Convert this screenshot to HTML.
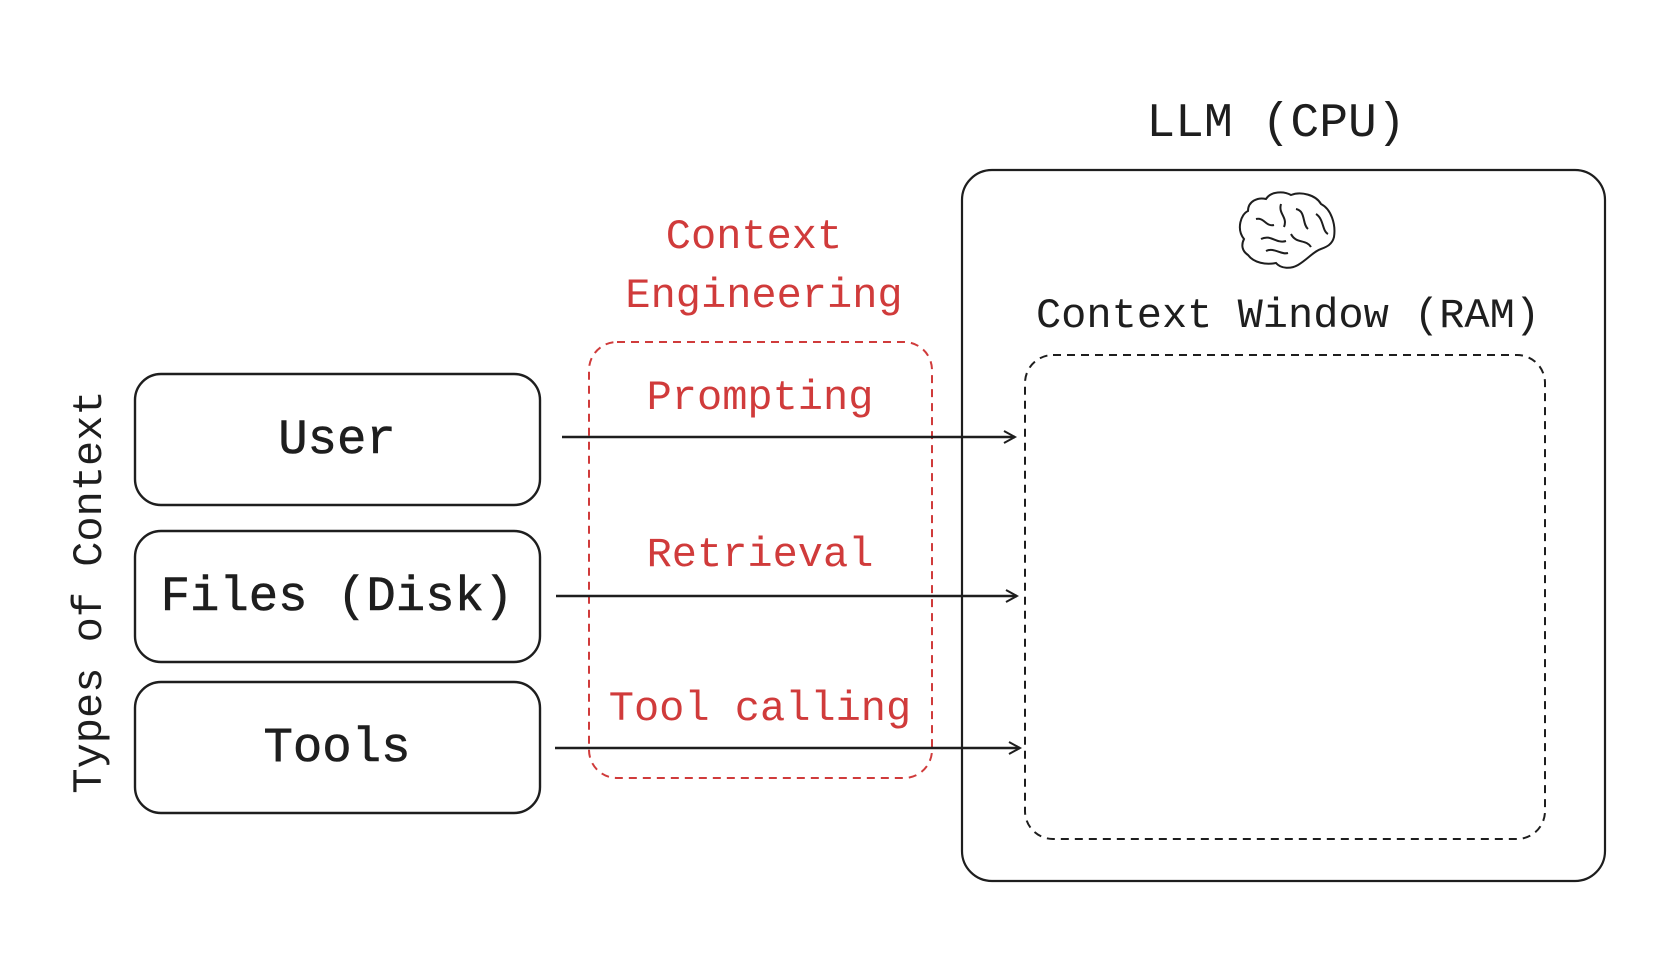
<!DOCTYPE html>
<html><head><style>html,body{margin:0;padding:0;background:#fff}svg{display:block}</style></head>
<body>
<svg width="1660" height="962" viewBox="0 0 1660 962" xmlns="http://www.w3.org/2000/svg" font-family="Liberation Mono, monospace">
<defs>
<marker id="ah" markerWidth="14" markerHeight="14" refX="12" refY="7" orient="auto" markerUnits="userSpaceOnUse">
<path d="M1,1 L12,7 L1,13" fill="none" stroke="#1e1e1e" stroke-width="2"/>
</marker>
</defs>
<g transform="translate(-4,-2)">
<text x="1280" y="138" font-size="48" text-anchor="middle" fill="#1e1e1e">LLM (CPU)</text>
<rect x="966" y="172" width="643" height="711" rx="30" fill="none" stroke="#1e1e1e" stroke-width="2.2"/>
<g fill="none" stroke="#1e1e1e" stroke-width="2" transform="translate(1240,191)">
<path d="M8,50 C0,40 5,25 12,22 C12,12 22,8 30,10 C35,2 48,2 55,6 C65,2 80,6 85,15 C95,20 100,35 98,48 C96,56 90,58 85,60 C78,62 72,70 62,76 C55,80 45,80 40,74 C30,76 18,74 12,66 C6,62 5,56 8,50 Z"/>
<path d="M20,30 C28,28 30,38 38,36 M45,15 C42,25 52,28 48,38 M60,20 C70,22 66,35 72,40 M25,50 C35,45 40,55 50,52 M55,45 C60,55 70,50 75,58 M80,25 C88,30 86,42 92,45 M30,62 C38,58 45,66 52,64"/>
</g>
<text x="1292" y="329" font-size="42" text-anchor="middle" fill="#1e1e1e">Context Window (RAM)</text>
<rect x="1029" y="357" width="520" height="484" rx="28" fill="none" stroke="#1e1e1e" stroke-width="2" stroke-dasharray="8 6"/>
<text x="758" y="250" font-size="42" text-anchor="middle" fill="#d03b3b">Context</text>
<text x="768" y="309" font-size="42" text-anchor="middle" fill="#d03b3b">Engineering</text>
<rect x="593" y="344" width="343" height="436" rx="28" fill="none" stroke="#d03b3b" stroke-width="2" stroke-dasharray="8 6"/>
<text x="764" y="411" font-size="42" text-anchor="middle" fill="#d03b3b">Prompting</text>
<text x="764" y="568" font-size="42" text-anchor="middle" fill="#d03b3b">Retrieval</text>
<text x="764" y="722" font-size="42" text-anchor="middle" fill="#d03b3b">Tool calling</text>
<g fill="none" stroke="#1e1e1e" stroke-width="2.4">
<rect x="139" y="376" width="405" height="131" rx="26"/>
<rect x="139" y="533" width="405" height="131" rx="26"/>
<rect x="139" y="684" width="405" height="131" rx="26"/>
</g>
<g font-size="49" text-anchor="middle" fill="#1e1e1e" stroke="#1e1e1e" stroke-width="0.6">
<text x="341" y="455">User</text>
<text x="341" y="612">Files (Disk)</text>
<text x="341" y="763">Tools</text>
</g>
<g stroke="#1e1e1e" stroke-width="2.4" marker-end="url(#ah)">
<line x1="566" y1="439" x2="1019" y2="439"/>
<line x1="560" y1="598" x2="1021" y2="598"/>
<line x1="559" y1="750" x2="1024" y2="750"/>
</g>
<text transform="translate(105,594) rotate(-90)" font-size="42" text-anchor="middle" fill="#1e1e1e">Types of Context</text>
</g>
</svg>
</body></html>
